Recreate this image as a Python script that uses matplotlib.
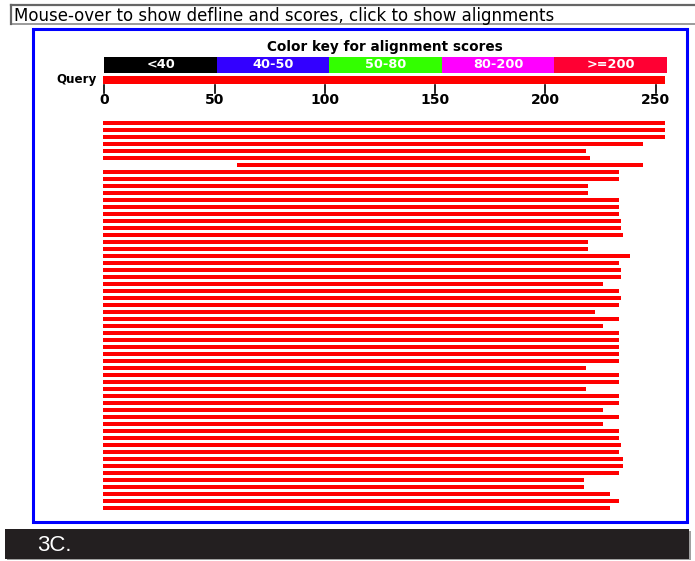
import matplotlib
matplotlib.use("Agg")
import matplotlib.pyplot as plt
from matplotlib.patches import Rectangle
import numpy as np

# ---------------- data ----------------
header_text = "Mouse-over to show defline and scores, click to show alignments"
key_title = "Color key for alignment scores"
key_labels = ["<40", "40-50", "50-80", "80-200", ">=200"]
key_colors = ["#000000", "#3300ff", "#33ff00", "#ff00ff", "#ff0033"]
query_label = "Query"
query_length = 255
tick_values = [0, 50, 100, 150, 200, 250]
panel_label = "3C."

hit_starts = [0, 0, 0, 0, 0, 0, 61, 0, 0, 0,
              0, 0, 0, 0, 0, 0, 0, 0, 0, 0,
              0, 0, 0, 0, 0, 0, 0, 0, 0, 0,
              0, 0, 0, 0, 0, 0, 0, 0, 0, 0,
              0, 0, 0, 0, 0, 0, 0, 0, 0, 0,
              0, 0, 0, 0, 0, 0]
hit_ends = [255, 255, 255, 245, 219, 221, 245, 234, 234, 220,
            220, 234, 234, 234, 235, 235, 236, 220, 220, 239,
            234, 235, 235, 227, 234, 235, 234, 223, 234, 227,
            234, 234, 234, 234, 234, 219, 234, 234, 219, 234,
            234, 227, 234, 227, 234, 234, 235, 234, 236, 236,
            234, 218, 218, 230, 234, 230]
hit_colors = ["#ff0000"] * len(hit_ends)

# ---------------- layout ----------------
W, H = 695, 561
fig = plt.figure(figsize=(W / 100, H / 100), dpi=100)

def px_axes(left, top, right, bottom):
    return fig.add_axes([left / W, 1 - bottom / H, (right - left) / W, (bottom - top) / H])

FONT = "Liberation Sans"
WIDE = "DejaVu Sans"

# background / decorations in pixel coordinates
bg = px_axes(0, 0, W, H)
bg.set_xlim(0, W)
bg.set_ylim(H, 0)
bg.axis("off")
bg.add_patch(Rectangle((11, 4.5), 700, 19.5, facecolor="white", edgecolor="#8a8a8a", lw=1.2))
bg.plot([11, 700], [4.5, 4.5], color="#666666", lw=1.6)
bg.plot([11, 11], [4.5, 24], color="#666666", lw=1.6)
bg.text(13.5, 15.5, header_text, fontsize=12, family=WIDE, va="center", ha="left", color="black")
bg.add_patch(Rectangle((33, 29), 654, 492.5, facecolor="white", edgecolor="#0000ff", lw=2.2))
bg.add_patch(Rectangle((6.5, 530.5), 684, 29.5, facecolor="#a0a0a0", edgecolor="none"))
bg.add_patch(Rectangle((5, 529), 684, 29.5, facecolor="#231f20", edgecolor="none"))
bg.text(37, 545.5, panel_label, fontsize=16, family=FONT, color="white", va="center", ha="left")

# x mapping: sequence position -> pixels
x0_px = 102.8
ppu = 2.2056
ax_left_px, ax_right_px = 30, 680

def xlim_for():
    return ((ax_left_px - x0_px) / ppu, (ax_right_px - x0_px) / ppu)

# ---- color key / query / ruler ----
axk = px_axes(ax_left_px, 38, ax_right_px, 110)
axk.set_xlim(*xlim_for())
axk.set_ylim(110, 38)
axk.axis("off")
seg = query_length / len(key_labels)
for i, (lab, col) in enumerate(zip(key_labels, key_colors)):
    axk.barh(64.8, seg, left=i * seg + 0.7, height=16.6, color=col, edgecolor="none")
    axk.text(i * seg + 0.7 + seg / 2, 64.8, lab, color="white", fontsize=9.3,
             family=WIDE, fontweight="bold", ha="center", va="center")
axk.text(query_length / 2 + 0.5, 47, key_title, fontsize=9.8, family=WIDE,
         fontweight="bold", ha="center", va="center")
axk.barh(80, query_length, left=0, height=8, color="#ff0000", edgecolor="none")
axk.text(-2.6, 79.5, query_label, fontsize=8.6, family=WIDE, fontweight="bold",
         ha="right", va="center")
for t in tick_values:
    axk.plot([t + 0.7, t + 0.7], [85, 93], color="black", lw=1.2)
    axk.text(t + 0.7, 99.5, str(t), fontsize=10, family=WIDE, fontweight="bold",
             ha="center", va="center", color="black")

# ---- hit bars ----
n = len(hit_ends)
row0_px, row_step = 123.0, 7.0
top_px, bot_px = 114, 516
axh = px_axes(ax_left_px, top_px, ax_right_px, bot_px)
axh.set_xlim(*xlim_for())
axh.set_ylim((bot_px - row0_px) / row_step, (top_px - row0_px) / row_step)
axh.axis("off")
starts = np.array(hit_starts)
ends = np.array(hit_ends)
axh.barh(np.arange(n), ends - starts, left=starts, height=0.64,
         color=hit_colors, edgecolor="none")

fig.savefig("out.png", dpi=100)
